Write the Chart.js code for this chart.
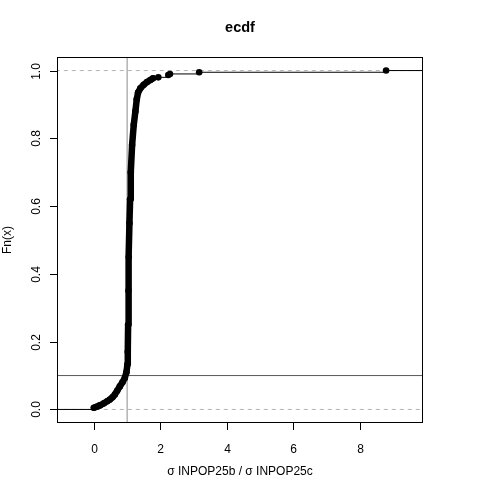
<!DOCTYPE html>
<html><head><meta charset="utf-8">
<script src="https://cdn.jsdelivr.net/npm/chart.js@4/dist/chart.umd.min.js"></script>
<style>html,body{margin:0;padding:0;background:#fff}</style>
</head><body>
<canvas id="c" width="480" height="480"></canvas>
<script>
// ECDF points
const ecdfX = [0.00,0.08,0.18,0.30,0.40,0.48,0.56,0.63,0.70,0.78,0.86,0.93,0.98,1.01,1.02,1.03,1.04,1.05,1.07,1.09,1.11,1.15,1.20,1.25,1.29,1.33,1.40,1.50,1.60,1.70,1.78,1.94,2.24,2.29,3.17,8.80];
const ecdfY = [0.005,0.008,0.012,0.018,0.024,0.029,0.036,0.044,0.055,0.068,0.080,0.093,0.110,0.133,0.17,0.25,0.35,0.45,0.55,0.62,0.70,0.78,0.84,0.88,0.915,0.935,0.948,0.958,0.966,0.972,0.977,0.980,0.987,0.990,0.995,1.000];
const denseCount = 31; // points merged into the thick dense run
const xTicks = [0,2,4,6,8];
const yTicks = [0.0,0.2,0.4,0.6,0.8,1.0];
const refV = 1;      // vertical reference line
const refH = 0.1;    // horizontal reference line
const dashedH = [0,1];
const xRange = [-1.112, 9.912];
const yRange = [-0.04, 1.04];
const titleText = 'ecdf';
const xTitle = 'σ INPOP25b / σ INPOP25c';
const yTitle = 'Fn(x)';

const pts = ecdfX.map((x,i)=>({x:x,y:ecdfY[i]}));
const dense = pts.slice(0, denseCount);
const FONT = '"Liberation Sans", Arial, Helvetica, sans-serif';

const axesPlugin = {
  id:'rAxes',
  afterDraw(chart){
    const ctx = chart.ctx, a = chart.chartArea, xs = chart.scales.x, ys = chart.scales.y;
    ctx.save();
    ctx.strokeStyle = '#000'; ctx.lineWidth = 1; ctx.fillStyle = '#000';
    // box
    ctx.strokeRect(Math.round(a.left)+0.5, Math.round(a.top)+0.5, Math.round(a.right-a.left)-1, Math.round(a.bottom-a.top)-1);
    // x ticks
    ctx.font = '12px ' + FONT; ctx.textAlign = 'center'; ctx.textBaseline = 'middle';
    xTicks.forEach(t=>{
      const px = Math.round(xs.getPixelForValue(t))+0.5;
      ctx.beginPath(); ctx.moveTo(px, a.bottom-0.5); ctx.lineTo(px, a.bottom+7); ctx.stroke();
      ctx.fillText(String(t), px, 450);
    });
    // y ticks
    yTicks.forEach(t=>{
      const py = Math.round(ys.getPixelForValue(t))+0.5;
      ctx.beginPath(); ctx.moveTo(a.left+0.5, py); ctx.lineTo(a.left-7, py); ctx.stroke();
      ctx.save(); ctx.translate(37, py); ctx.rotate(-Math.PI/2);
      ctx.fillText(t.toFixed(1), 0, 0); ctx.restore();
    });
    // titles
    ctx.fillText(xTitle, (a.left+a.right)/2, 472);
    ctx.save(); ctx.translate(8, (a.top+a.bottom)/2); ctx.rotate(-Math.PI/2);
    ctx.fillText(yTitle, 0, 0); ctx.restore();
    ctx.font = 'bold 14.5px ' + FONT;
    ctx.fillText(titleText, (a.left+a.right)/2, 28);
    ctx.restore();
  }
};

const lineDs = (data, color, width, dash, order) => ({
  data, showLine:true, borderColor:color, borderWidth:width, borderDash:dash||[],
  pointRadius:0, fill:false, order:order, tension:0
});

new Chart(document.getElementById('c'), {
  type:'scatter',
  data:{datasets:[
    // ECDF thick dense run
    {data:dense, showLine:true, borderColor:'#000', borderWidth:6.5, borderCapStyle:'round', borderJoinStyle:'round', pointRadius:0, order:1},
    // ECDF step line + points
    {data:pts, showLine:true, stepped:'before', borderColor:'#000', borderWidth:1, pointRadius:3.3, pointBackgroundColor:'#000', pointBorderColor:'#000', pointBorderWidth:0, order:2},
    // left & right tails of the step function
    lineDs([{x:xRange[0]-1,y:0},{x:ecdfX[0],y:0},{x:ecdfX[0],y:ecdfY[0]}], '#000', 1, [], 3),
    lineDs([{x:ecdfX[ecdfX.length-1],y:1},{x:xRange[1]+1,y:1}], '#000', 1, [], 3),
    // dashed 0/1 lines
    ...dashedH.map(h=>lineDs([{x:xRange[0]-1,y:h},{x:xRange[1]+1,y:h}], '#b3b3b3', 1, [4,4], 4)),
    // reference lines
    lineDs([{x:refV,y:yRange[0]-1},{x:refV,y:yRange[1]+1}], '#8c8c8c', 1, [], 5),
    lineDs([{x:xRange[0]-1,y:refH},{x:xRange[1]+1,y:refH}], '#5a5a5a', 1, [], 5)
  ]},
  options:{
    responsive:false, animation:false, devicePixelRatio:1,
    layout:{padding:{left:57,top:57,right:57,bottom:57}},
    plugins:{legend:{display:false}, tooltip:{enabled:false}, title:{display:false}},
    scales:{
      x:{type:'linear', min:xRange[0], max:xRange[1], display:false},
      y:{type:'linear', min:yRange[0], max:yRange[1], display:false}
    }
  },
  plugins:[axesPlugin]
});
</script>
</body></html>
